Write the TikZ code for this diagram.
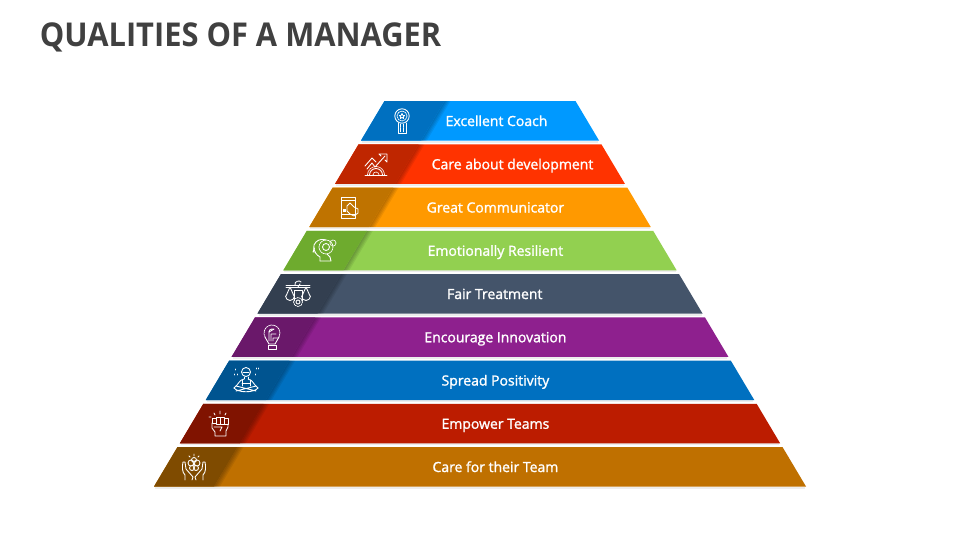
\documentclass[tikz,border=0pt]{standalone}
\usepackage{fontspec}
\setmainfont{Open Sans}
\newfontfamily\semifont[FakeBold=1.5]{Open Sans}
\newfontfamily\titlefont[FakeStretch=0.94]{Open Sans}
\usetikzlibrary{calc}

\definecolor{coachL}{HTML}{0099FF}
\definecolor{coachD}{HTML}{0070C0}
\definecolor{careL}{HTML}{FF3300}
\definecolor{careD}{HTML}{BF2600}
\definecolor{commL}{HTML}{FF9900}
\definecolor{commD}{HTML}{BF7300}
\definecolor{resilL}{HTML}{92D050}
\definecolor{resilD}{HTML}{6EAB2E}
\definecolor{fairL}{HTML}{44546A}
\definecolor{fairD}{HTML}{333F50}
\definecolor{innovL}{HTML}{8E208E}
\definecolor{innovD}{HTML}{6A186A}
\definecolor{positL}{HTML}{0070C0}
\definecolor{positD}{HTML}{005490}
\definecolor{empowL}{HTML}{BC1C00}
\definecolor{empowD}{HTML}{801300}
\definecolor{teamL}{HTML}{BF7000}
\definecolor{teamD}{HTML}{7F4B00}
\definecolor{titlegrey}{HTML}{404040}

\begin{document}
\begin{tikzpicture}[x=0.75pt,y=-0.75pt]
 \tikzstyle{barlabel} = [text=white,font=\semifont\fontsize{10.5}{12}\selectfont,inner sep=0pt,text height=8pt,text depth=2pt,node distance=43.25*0.75pt];
 \tikzstyle{icon} = [draw=white,line width=0.65pt,line join=round,line cap=round];
 \tikzstyle{iconfine} = [icon,line width=0.55pt,dash pattern=on 1pt off 0.6pt];

 \useasboundingbox (0,0) rectangle (960,540);
 \fill[white] (0,0) rectangle (960,540);

 \node[anchor=west,inner sep=0pt,text=titlegrey,font=\titlefont\bfseries\fontsize{24.6}{28}\selectfont,name=title] at (39.5,37) {QUALITIES OF A MANAGER};

 % the nine bars with their dark panels
 \foreach \n/\cl/\cd in {0/coachL/coachD,1/careL/careD,2/commL/commD,3/resilL/resilD,4/fairL/fairD,5/innovL/innovD,6/positL/positD,7/empowL/empowD,8/teamL/teamD} {
  \pgfmathsetmacro\ytop{101+43.25*\n}
  \pgfmathsetmacro\ybot{\ytop+39.5}
  \pgfmathsetmacro\xbl{361-25.875*\n}
  \pgfmathsetmacro\xbr{599+25.875*\n}
  \fill[black!7] (\xbl+1,\ybot) -- (\xbr-1,\ybot) -- (\xbr-1,\ybot+2) -- (\xbl+1,\ybot+2) -- cycle;
  \fill[\cl] (\xbl,\ybot) -- (\xbl+23.5,\ytop) -- (\xbr-23.5,\ytop) -- (\xbr,\ybot) -- cycle;
  \foreach \w in {1.5,3,4.5,6}
   \fill[black,opacity=0.07] (\xbl+60,\ybot) -- (\xbl+83.5,\ytop) -- (\xbl+83.5+\w,\ytop) -- (\xbl+60+\w,\ybot) -- cycle;
  \fill[\cd] (\xbl,\ybot) -- (\xbl+23.5,\ytop) -- (\xbl+83.5,\ytop) -- (\xbl+60,\ybot) -- cycle;
 }

 \node[barlabel,name=coach] at (496.5,122) {Excellent Coach};
 \node[barlabel,name=develop,below of=coach,xshift=12pt] {Care about development};
 \node[barlabel,name=communicator,below of=coach,yshift=-43.25*0.75pt,xshift=-0.8pt] {Great Communicator};
 \node[barlabel,name=resilient,below of=communicator] {Emotionally Resilient};
 \node[barlabel,name=fair,below of=resilient,xshift=-0.5pt] {Fair Treatment};
 \node[barlabel,name=innovation,below of=fair,xshift=0.5pt] {Encourage Innovation};
 \node[barlabel,name=positivity,below of=innovation] {Spread Positivity};
 \node[barlabel,name=empower,below of=positivity] {Empower Teams};
 \node[barlabel,name=team,below of=empower] {Care for their Team};

 % medal
 \begin{scope}[shift={(402,121)}]
  \draw[icon] (0,-5) circle (7.2);
  \draw[iconfine] (0,-5) circle (5);
  \draw[icon] (0,-7.5) -- (1,-5.5) -- (2.5,-5.5) -- (1.2,-4) -- (1.6,-2.5) -- (0,-3.5) -- (-1.6,-2.5) -- (-1.2,-4) -- (-2.5,-5.5) -- (-1,-5.5) -- cycle;
  \draw[icon] (-4,2) -- (-4,12) -- (4,12) -- (4,2);
  \draw[iconfine] (-1.5,3) -- (-1.5,11) (1.5,3) -- (1.5,11);
 \end{scope}
 % chart over a gear
 \begin{scope}[shift={(376,164)}]
  \draw[icon] (-11,11) -- (11,11);
  \draw[icon] (-6.5,11) arc (180:360:6.5);
  \draw[iconfine] (-8.5,11) arc (180:360:8.5);
  \draw[iconfine] (-3,11) arc (180:360:3);
  \draw[icon] (-11,2) -- (-4,-6) -- (0,-2);
  \draw[icon] (-9,5) -- (-4,-1) -- (-1,3) -- (9,-8);
  \draw[icon] (3,-10) -- (11,-10) -- (11,-2) (3,-10) -- (5,-8) (11,-2) -- (9,-4);
 \end{scope}
 % phone in a hand
 \begin{scope}[shift={(349,207)}]
  \draw[icon] (-7.5,-10) rectangle (6,11);
  \draw[icon] (-7.5,-6.5) -- (6,-6.5) (-7.5,7) -- (6,7);
  \fill[white] (-6,1.5) rectangle (-3,4.5);
  \draw[icon] (-2,4) -- (-2,-1) -- (1,-4) -- (5,0) -- (9,2) -- (9,6) -- (5,9) -- (1,7) -- cycle;
 \end{scope}
 % head with a gear
 \begin{scope}[shift={(324,250)}]
  \draw[icon] (-4,11) -- (-4,7) .. controls (-11,3) and (-12,-5) .. (-8,-8) .. controls (-5,-11) and (-1,-11) .. (2,-10);
  \draw[icon] (-4,11) -- (7,11) -- (6,7);
  \draw[icon] (-9.5,-2) -- (-11,2) -- (-9,2);
  \draw[icon] (6,7) -- (3,4);
  \draw[iconfine] (2,-3) circle (7);
  \draw[icon] (2,-3) circle (3.5);
  \draw[iconfine] (9,-7) circle (3);
 \end{scope}
 % scales and gear
 \begin{scope}[shift={(298,293)}]
  \draw[icon] (-12,-8) -- (12,-8) (-12,-6) -- (12,-6);
  \draw[icon] (-8,-6) -- (-12,3) (-8,-6) -- (-4,3) (8,-6) -- (4,3) (8,-6) -- (12,3);
  \draw[icon] (-3.5,3) arc (0:180:4.5);
  \draw[icon] (12.5,3) arc (0:180:4.5);
  \draw[icon] (-4,8) -- (-4,-3) -- (4,-3) -- (4,8);
  \draw[icon] (0,9) circle (2);
  \draw[iconfine] (0,9) circle (4.5);
  \draw[icon] (-3,-8) .. controls (-4,-12) and (2,-13) .. (3,-11) (0,-6) -- (2,-9);
 \end{scope}
 % light bulb
 \begin{scope}[shift={(272,337)}]
  \draw[iconfine] (0,-4) ++(150:8) arc (150:390:8);
  \draw[icon] (-7,0) -- (-3,7) -- (3,7) -- (7,0);
  \draw[icon] (-4,8) rectangle (4,12);
  \draw[icon] (-3,4) -- (-3,-5) -- (2,-8) (-1,4) -- (-1,-3) -- (4,-3) (1,4) -- (1,1) -- (6,1);
  \draw[icon] (-3,-5) arc (180:300:3);
 \end{scope}
 % meditating figure
 \begin{scope}[shift={(246,380)}]
  \draw[icon] (0,-8) circle (4.5);
  \draw[icon] (-3,-8) -- (3,-8) (-2,-3) -- (-2,-1) (2,-3) -- (2,-1);
  \draw[icon] (-2,-1) .. controls (-7,0) and (-7,4) .. (-12,8) (2,-1) .. controls (7,0) and (7,4) .. (12,8);
  \draw[icon] (-12,8) .. controls (-8,13) and (8,13) .. (12,8) (-10,11) -- (10,6) (10,11) -- (-10,6);
  \draw[icon] (-4,3) -- (4,3) (-4,0) -- (-4,6) (4,0) -- (4,6);
  \draw[icon] (-11,-11) -- (-11,-10) (-9,-6) -- (-9,-5) (-12,-6) -- (-12,-5) (10,-12) -- (10,-11) (12,-12) -- (12,-11) (9,-6) -- (9,-5);
 \end{scope}
 % raised fist
 \begin{scope}[shift={(220,424)}]
  \draw[icon] (-8,-6) rectangle (-4,-1);
  \draw[icon] (-4,-7) rectangle (0,0) (0,-7) rectangle (4,0) (4,-6) rectangle (8,0);
  \draw[icon] (-8,-1) -- (-8,4) -- (-5,8) -- (-5,12) -- (6,12) -- (6,7) -- (8,3) -- (8,0);
  \draw[icon] (-6,3) -- (2,3) -- (0,7);
  \draw[icon] (0,-13) -- (0,-10) (-6,-11) -- (-5,-9) (6,-11) -- (5,-9) (-11,-7) -- (-9,-7);
 \end{scope}
 % hands holding a flower
 \begin{scope}[shift={(194,467)}]
  \draw[icon] (-9,13) -- (-9,8) .. controls (-12,5) and (-12,0) .. (-11,-5) (-11,-5) -- (-9,-5) -- (-8,2) -- (-1,10) -- (-2,13);
  \draw[icon] (9,13) -- (9,8) .. controls (12,5) and (12,0) .. (11,-5) (11,-5) -- (9,-5) -- (8,2) -- (1,10) -- (2,13);
  \draw[icon] (-3,-4) circle (3) (3,-4) circle (3) (0,-7) circle (2.5) (-2,1) circle (2.5) (2,1) circle (2.5);
  \fill[white] (0,-3) circle (1.5);
  \draw[icon] (0,-13) -- (0,-11) (-5,-11) -- (-4,-10) (5,-11) -- (4,-10);
 \end{scope}
\end{tikzpicture}
\end{document}
